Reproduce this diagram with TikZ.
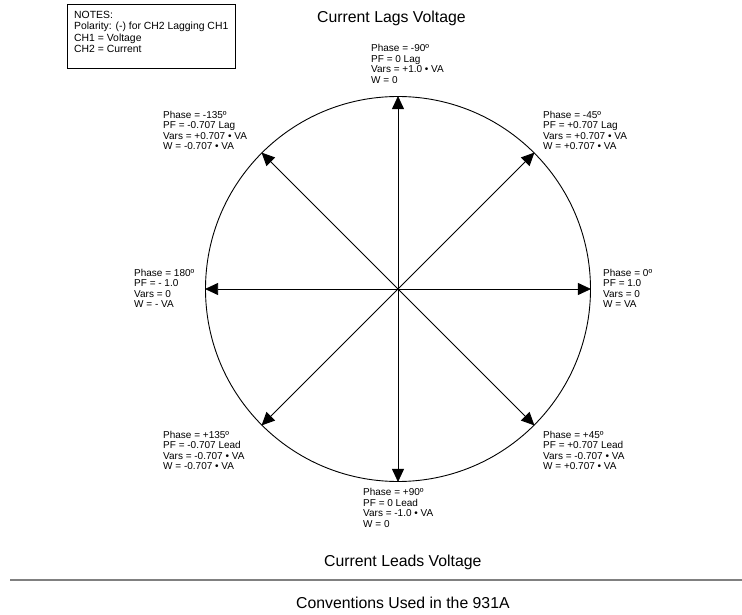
\documentclass[tikz,border=0pt]{standalone}
\usepackage{fontspec}
\setmainfont{Liberation Sans}
\usetikzlibrary{arrows.meta}
\tikzset{
  lbl/.style={anchor=north west, align=left, inner sep=0pt, font=\fontsize{10}{10.4}\selectfont},
  ttl/.style={inner sep=0pt, font=\fontsize{15.8}{18}\selectfont},
  vec/.style={draw=black, line width=0.8pt, -{Triangle[length=13pt,width=12pt]}},
}
\begin{document}
\begin{tikzpicture}[x=1pt,y=-1pt]
\useasboundingbox (0,0) rectangle (742,615);
\coordinate (O) at (398,289);
\node[circle, draw=black, line width=0.9pt, minimum size=385pt, inner sep=0pt] (C) at (O) {};
\draw[vec] (O) -- (C.0);
\draw[vec] (O) -- (C.45);
\draw[vec] (O) -- (C.90);
\draw[vec] (O) -- (C.135);
\draw[vec] (O) -- (C.180);
\draw[vec] (O) -- (C.225);
\draw[vec] (O) -- (C.270);
\draw[vec] (O) -- (C.315);

\node[ttl, anchor=west] (t1) at (317,18) {Current Lags Voltage};
\node[ttl, anchor=west] (t2) at (324,562) {Current Leads Voltage};
\node[ttl, anchor=west] (t3) at (296,603) {Conventions Used in the 931A};
\draw[draw=gray, line width=1.4pt] (10,580) coordinate (r1) -- (742,580) coordinate (r2);

\node[draw=black, line width=0.8pt, anchor=north west, inner sep=0pt,
      minimum width=168pt, minimum height=64pt] (notes) at (67,4) {};
\node[lbl, font=\fontsize{10.4}{11.4}\selectfont] (notestxt) at (74,11)
  {NOTES:\\Polarity: (-) for CH2 Lagging CH1\\CH1 = Voltage\\CH2 = Current};

\node[lbl] (l90n) at (371,44.5) {Phase = -90º\\PF = 0 Lag\\Vars = +1.0 • VA\\W = 0};
\node[lbl] (l135n) at (163,111) {Phase = -135º\\PF = -0.707 Lag\\Vars = +0.707 • VA\\W = -0.707 • VA};
\node[lbl] (l45n) at (543,111) {Phase = -45º\\PF = +0.707 Lag\\Vars = +0.707 • VA\\W = +0.707 • VA};
\node[lbl] (l180) at (134,269) {Phase = 180º\\PF = - 1.0\\Vars = 0\\W = - VA};
\node[lbl] (l0) at (603,269) {Phase = 0º\\PF = 1.0\\Vars = 0\\W = VA};
\node[lbl] (l135p) at (163,431) {Phase = +135º\\PF = -0.707 Lead\\Vars = -0.707 • VA\\W = -0.707 • VA};
\node[lbl] (l45p) at (543,431) {Phase = +45º\\PF = +0.707 Lead\\Vars = -0.707 • VA\\W = +0.707 • VA};
\node[lbl] (l90p) at (363,488.5) {Phase = +90º\\PF = 0 Lead\\Vars = -1.0 • VA\\W = 0};
\end{tikzpicture}
\end{document}
